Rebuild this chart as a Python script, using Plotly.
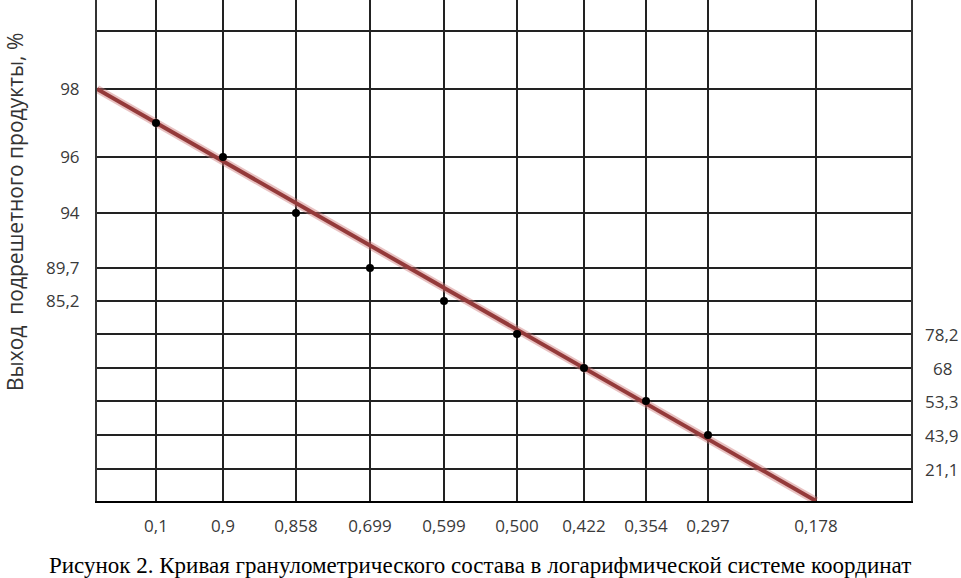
import numpy as np
import plotly.graph_objects as go

# --- data ---
sieve = ["0,1", "0,9", "0,858", "0,699", "0,599", "0,500", "0,422", "0,354", "0,297", "0,178"]
yield_pts = [97, 96, 94, 89.7, 85.2, 78.2, 68, 53.3, 43.9]  # one per sieve, last sieve has no point
yield_left = [98, 96, 94, 89.7, 85.2]  # labels on the left side
yield_right = [78.2, 68, 53.3, 43.9, 21.1]  # labels on the right side
trend_start = 98  # trend line starts at the axis origin at this yield
trend_end = "0,178"  # ... and ends on the bottom axis at this sieve

# --- hand drawn (ordinal) grid of the original: column / row positions ---
col_pos = [59, 126, 199, 273, 347, 420, 487, 549, 611, 719]
levels = [0, 21.1, 43.9, 53.3, 68, 78.2, 85.2, 89.7, 94, 96, 98]
level_pos = [0, 32, 66, 100, 133, 167, 200, 233, 288, 344, 412]
top_row = 470
X_MAX, Y_MAX = 814, 501


def fx(lbl):
    return col_pos[sieve.index(lbl)]


def fy(v):
    return float(np.interp(v, levels, level_pos))


def fmt(v):
    return f"{v:g}".replace(".", ",")


TICK_FONT = dict(family="Open Sans, sans-serif", size=17, color="#3a3a3a")
GRID = "#222222"

fig = go.Figure()

# trend line (soft halo + core)
tx = [0, fx(trend_end)]
ty = [fy(trend_start), 0]
fig.add_trace(go.Scatter(x=tx, y=ty, mode="lines", line=dict(color="rgba(205,120,120,0.45)", width=8),
                         hoverinfo="skip"))
fig.add_trace(go.Scatter(x=tx, y=ty, mode="lines", line=dict(color="#943a3a", width=4),
                         hoverinfo="skip"))

# measured points
fig.add_trace(go.Scatter(
    x=[fx(s) for s in sieve[:len(yield_pts)]],
    y=[fy(v) for v in yield_pts],
    mode="markers",
    marker=dict(color="black", size=8),
    text=[fmt(v) for v in yield_pts],
    hovertemplate="%{text}<extra></extra>",
))

grid_rows = [fy(v) for v in levels[1:]] + [top_row]
row_text = [fmt(v) if v in yield_left else "" for v in levels[1:]] + [""]

fig.update_xaxes(
    range=[0, X_MAX], tickmode="array", tickvals=col_pos, ticktext=sieve,
    showgrid=True, gridcolor=GRID, gridwidth=1.7, zeroline=False,
    showline=True, linecolor="black", linewidth=2, ticks="",
    ticklabelstandoff=9, tickfont=TICK_FONT,
)
fig.update_yaxes(
    range=[0, Y_MAX], tickmode="array", tickvals=grid_rows, ticktext=row_text,
    showgrid=True, gridcolor=GRID, gridwidth=1.7, zeroline=False,
    showline=True, mirror=True, linecolor="#333333", linewidth=2, ticks="",
    ticklabelstandoff=12, tickfont=TICK_FONT,
)

# right-hand labels, centred like the original
for v in yield_right:
    fig.add_annotation(x=1, xref="paper", xshift=31, y=fy(v), yref="y", text=fmt(v),
                       showarrow=False, xanchor="center", yanchor="middle", font=TICK_FONT)

# axis title
fig.add_annotation(x=0, xref="paper", xshift=-82, y=(Y_MAX - 212) / Y_MAX, yref="paper",
                   text="Выход  подрешетного продукты, %", textangle=-90, showarrow=False,
                   xanchor="center", yanchor="middle",
                   font=dict(family="Open Sans, sans-serif", size=21, color="#333333"))

# caption
fig.add_annotation(x=(480 - 97) / X_MAX, xref="paper", y=-(565 - Y_MAX) / Y_MAX, yref="paper",
                   text="Рисунок 2. Кривая гранулометрического состава в логарифмической системе координат",
                   showarrow=False, xanchor="center", yanchor="middle",
                   font=dict(family="Liberation Serif, Times New Roman, serif", size=23, color="black"))

fig.update_layout(
    width=961, height=578,
    margin=dict(l=97, r=50, t=0, b=77),
    paper_bgcolor="white", plot_bgcolor="white",
    showlegend=False,
)

fig.write_html("out.html", config={"displayModeBar": False},
               post_script="document.body.style.margin='0';")
